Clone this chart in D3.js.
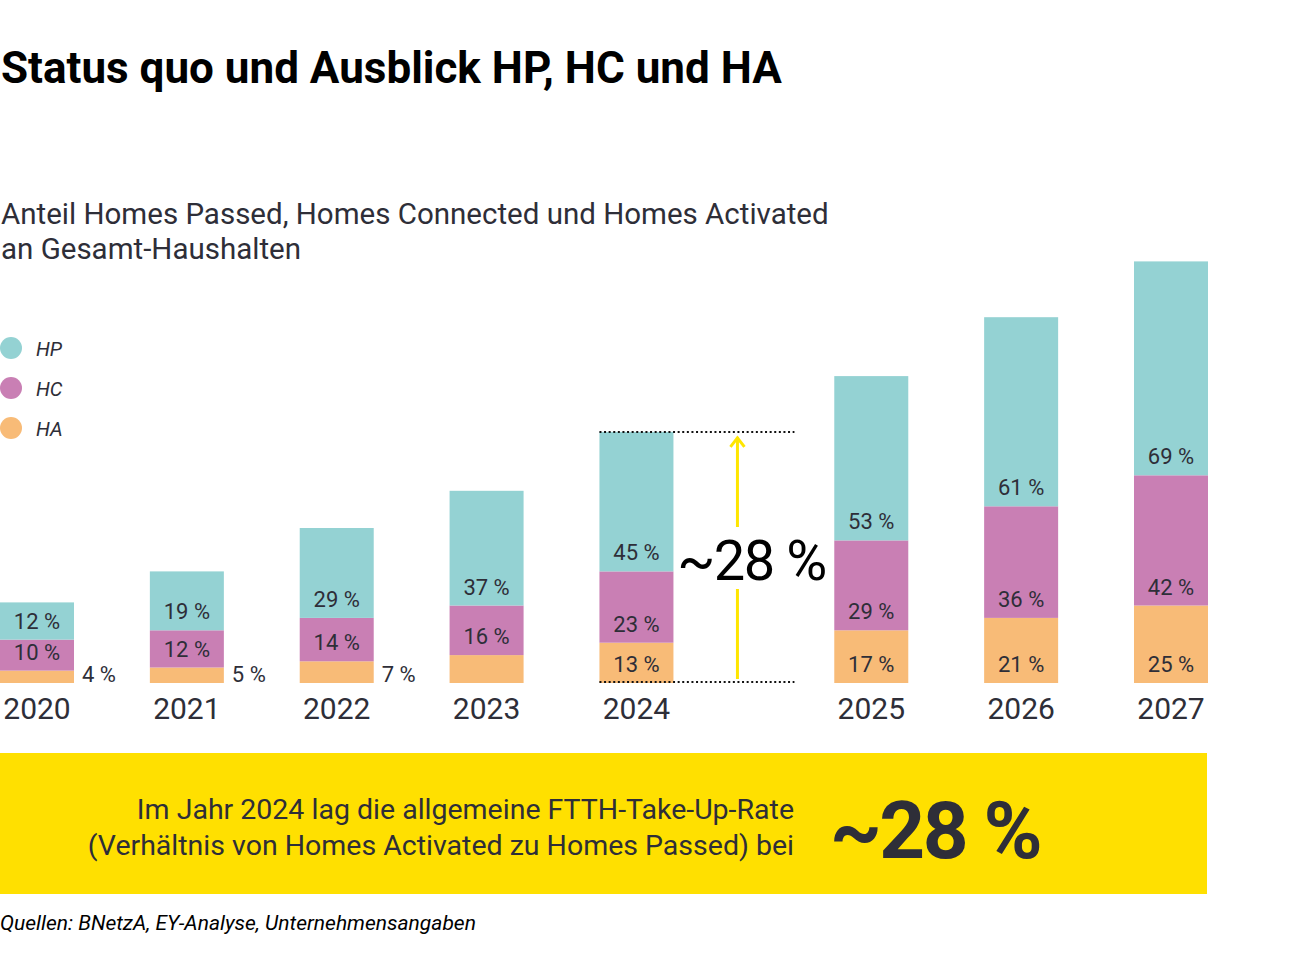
<!DOCTYPE html>
<html>
<head>
<meta charset="utf-8">
<script src="https://cdn.jsdelivr.net/npm/d3@7"></script>
<style>
  body { margin: 0; background: #fff; }
  svg { display: block; font-family: Roboto, "DejaVu Sans", sans-serif; }
</style>
</head>
<body>
<div id="chart"></div>
<script>
// data
const years = ["2020", "2021", "2022", "2023", "2024", "2025", "2026", "2027"];
const haValues = [4, 5, 7, 9, 13, 17, 21, 25];
const hcValues = [10, 12, 14, 16, 23, 29, 36, 42];
const hpValues = [12, 19, 29, 37, 45, 53, 61, 69];
// HA label shown inside (true), outside (false) or not at all (null)
const haLabelInside = [false, false, false, null, true, true, true, true];
const seriesNames = ["HP", "HC", "HA"];
const seriesColors = ["#94d2d3", "#c97fb4", "#f8bb77"];
const takeUpRate = "~28 %";

const width = 1296;
const height = 972;
const dark = "#2e2e38";

const svg = d3.select("#chart")
  .append("svg")
  .attr("width", width)
  .attr("height", height);

// titles
svg.append("text")
  .attr("x", 1).attr("y", 83)
  .attr("font-size", 44)
  .attr("font-weight", 700)
  .attr("fill", "#000")
  .text("Status quo und Ausblick HP, HC und HA");

const sub = svg.append("text")
  .attr("font-size", 29.5)
  .attr("fill", dark);
sub.append("tspan").attr("x", 1).attr("y", 224)
  .text("Anteil Homes Passed, Homes Connected und Homes Activated");
sub.append("tspan").attr("x", 1).attr("y", 259)
  .text("an Gesamt-Haushalten");

// legend
const legend = svg.append("g").attr("class", "legend")
  .selectAll("g")
  .data(seriesNames)
  .join("g")
  .attr("transform", (d, i) => `translate(0, ${348 + i * 40})`);
legend.append("circle")
  .attr("cx", 11).attr("r", 11)
  .attr("fill", (d, i) => seriesColors[i]);
legend.append("text")
  .attr("x", 36).attr("y", 8)
  .attr("font-size", 20)
  .attr("font-style", "italic")
  .attr("fill", dark)
  .text(d => d);

// scales
const gapSlots = 0.567; // extra room after 2024 for the annotation
const slot = i => i + (i > 4 ? gapSlots : 0);
const barWidth = 74;
const x = d3.scaleLinear()
  .domain([0, years.length - 1 + gapSlots])
  .range([0, 1134]);
const y = d3.scaleLinear()
  .domain([0, 100])
  .range([683, 373]);

const rows = years.map((yr, i) => ({
  year: yr, i: i,
  ha: haValues[i], hc: hcValues[i], hp: hpValues[i],
  haInside: haLabelInside[i]
}));

// stack order: ha bottom, hc middle, hp top
const stack = d3.stack().keys(["ha", "hc", "hp"])(rows);
const colorByKey = { hp: seriesColors[0], hc: seriesColors[1], ha: seriesColors[2] };

const bars = svg.append("g").attr("class", "bars");
stack.forEach(layer => {
  bars.append("g")
    .selectAll("rect")
    .data(layer)
    .join("rect")
    .attr("x", d => x(slot(d.data.i)))
    .attr("y", d => y(d[1]))
    .attr("width", barWidth)
    .attr("height", d => y(d[0]) - y(d[1]))
    .attr("fill", colorByKey[layer.key]);
});

// value labels
const labels = svg.append("g").attr("class", "value-labels")
  .attr("font-size", 22)
  .attr("fill", dark);
stack.forEach(layer => {
  const outside = d => layer.key === "ha" && !d.data.haInside;
  labels.selectAll(null)
    .data(layer.filter(d => layer.key !== "ha" || d.data.haInside !== null))
    .join("text")
    .attr("x", d => outside(d) ? x(slot(d.data.i)) + barWidth + 8 : x(slot(d.data.i)) + barWidth / 2)
    .attr("y", d => outside(d) ? y(0) - 1 : y(d[0]) - 11)
    .attr("text-anchor", d => outside(d) ? "start" : "middle")
    .text(d => d.data[layer.key] + " %");
});

// year axis
svg.append("g").attr("class", "years")
  .selectAll("text")
  .data(rows)
  .join("text")
  .attr("x", d => x(slot(d.i)) + barWidth / 2)
  .attr("y", 719)
  .attr("text-anchor", "middle")
  .attr("font-size", 30)
  .attr("fill", dark)
  .text(d => d.year);

// take-up annotation for 2024
const r24 = rows[4];
const annLeft = x(slot(4));
const annRight = annLeft + 195;
const top24 = y(r24.ha + r24.hc + r24.hp);
[top24, y(0) - 1].forEach(yy => {
  svg.append("line")
    .attr("x1", annLeft).attr("x2", annRight)
    .attr("y1", yy).attr("y2", yy)
    .attr("stroke", "#111")
    .attr("stroke-width", 2)
    .attr("stroke-dasharray", "2 2.6");
});
const arrowX = annLeft + 138;
const arrowColor = "#ffe600";
svg.append("line")
  .attr("x1", arrowX).attr("x2", arrowX)
  .attr("y1", y(0) - 4).attr("y2", 589)
  .attr("stroke", arrowColor).attr("stroke-width", 3);
svg.append("line")
  .attr("x1", arrowX).attr("x2", arrowX)
  .attr("y1", 527).attr("y2", top24 + 5)
  .attr("stroke", arrowColor).attr("stroke-width", 3);
svg.append("path")
  .attr("d", `M${arrowX - 7},${top24 + 15} L${arrowX},${top24 + 6} L${arrowX + 7},${top24 + 15}`)
  .attr("fill", "none")
  .attr("stroke", arrowColor).attr("stroke-width", 3);
svg.append("text")
  .attr("x", arrowX + 14).attr("y", 580)
  .attr("text-anchor", "middle")
  .attr("font-size", 56)
  .attr("letter-spacing", -1.5)
  .attr("fill", "#000")
  .text(takeUpRate);

// yellow box
svg.append("rect")
  .attr("x", 0).attr("y", 753)
  .attr("width", 1207).attr("height", 141)
  .attr("fill", "#ffe000");
const boxText = svg.append("text")
  .attr("text-anchor", "end")
  .attr("font-size", 28.5)
  .attr("fill", dark);
boxText.append("tspan").attr("x", 794).attr("y", 819)
  .text("Im Jahr 2024 lag die allgemeine FTTH-Take-Up-Rate");
boxText.append("tspan").attr("x", 794).attr("y", 855)
  .text("(Verhältnis von Homes Activated zu Homes Passed) bei");
svg.append("text")
  .attr("x", 830).attr("y", 858)
  .attr("font-size", 80)
  .attr("font-weight", 700)
  .attr("letter-spacing", -2.5)
  .attr("fill", dark)
  .text(takeUpRate);

// source
svg.append("text")
  .attr("x", 0).attr("y", 930)
  .attr("font-size", 21)
  .attr("font-style", "italic")
  .attr("fill", "#000")
  .text("Quellen: BNetzA, EY-Analyse, Unternehmensangaben");
</script>
</body>
</html>
